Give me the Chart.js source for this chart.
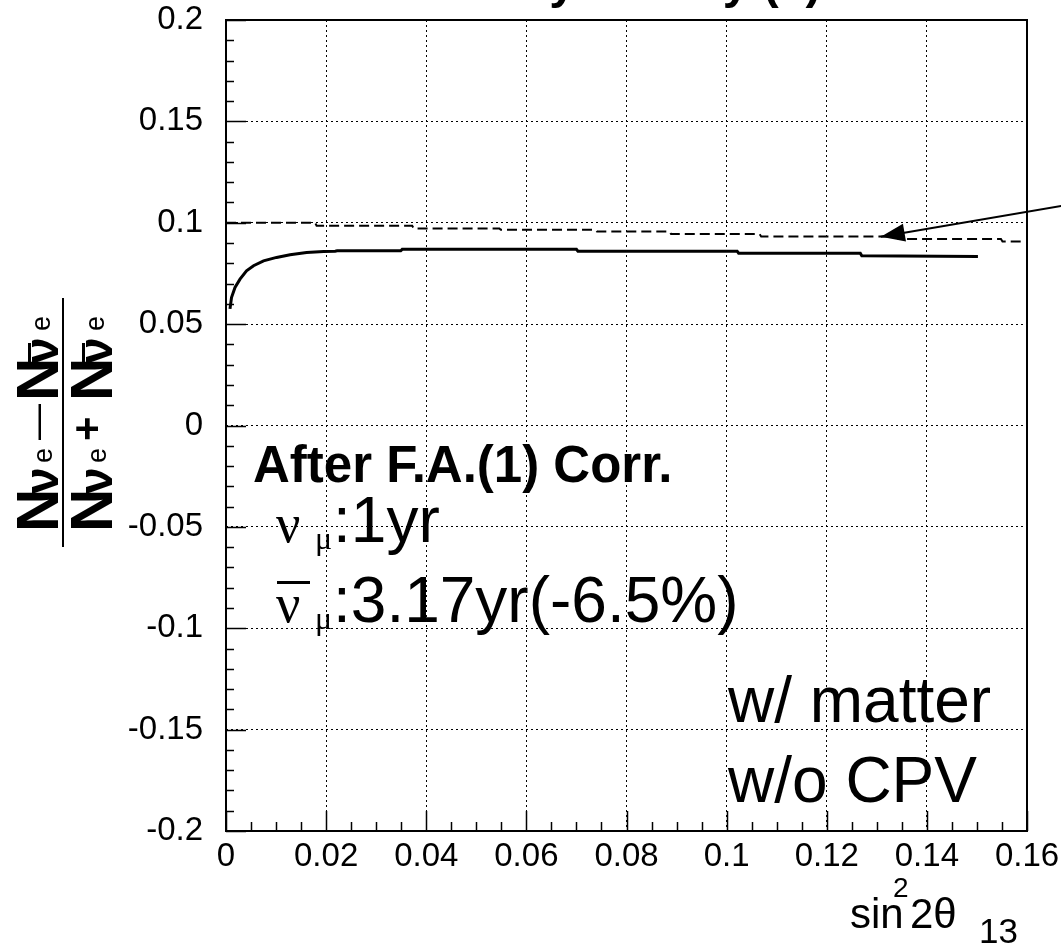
<!DOCTYPE html>
<html><head><meta charset="utf-8">
<script src="https://cdn.jsdelivr.net/npm/chart.js@4/dist/chart.umd.min.js"></script>
<style>html,body{margin:0;padding:0;background:#fff;}#wrap{width:1061px;height:948px;}</style>
</head><body><div id="wrap"><canvas id="c" width="1061" height="948"></canvas></div>
<script>
// ---- data ----
const solidX = [0.0008,0.0011,0.0018,0.0028,0.0041,0.0055,0.0075,0.0101,0.0128,0.0161,0.0195,0.0218,0.0222,0.0349,0.0352,0.0700,0.0703,0.1021,0.1024,0.1267,0.1270,0.1502];
const solidY = [0.0575,0.0631,0.0681,0.0722,0.0763,0.0788,0.0812,0.0829,0.0842,0.0853,0.0858,0.0860,0.0862,0.0862,0.0869,0.0869,0.0860,0.0860,0.0850,0.0850,0.0837,0.0834];
const dashedX = [0,0.0178,0.0181,0.0372,0.0375,0.0546,0.0549,0.0738,0.0741,0.0886,0.0889,0.1066,0.1069,0.1340,0.1343,0.1548,0.1551,0.1588];
const dashedY = [0.1000,0.1000,0.0985,0.0985,0.0972,0.0972,0.0965,0.0965,0.0957,0.0957,0.0944,0.0944,0.0932,0.0932,0.0920,0.0920,0.0908,0.0908];
const arrowX = [0.167,0.1308];
const arrowY = [0.1084,0.0931];
const xTicks = [0,0.02,0.04,0.06,0.08,0.1,0.12,0.14,0.16];
const xTickLabels = ['0','0.02','0.04','0.06','0.08','0.1','0.12','0.14','0.16'];
const yTicks = [-0.2,-0.15,-0.1,-0.05,0,0.05,0.1,0.15,0.2];
const yTickLabels = ['-0.2','-0.15','-0.1','-0.05','0','0.05','0.1','0.15','0.2'];
const topTitle = 'Asymmetry (1)';
const noteBold = 'After F.A.(1) Corr.';
const note1 = ':1yr';
const note2 = ':3.17yr(-6.5%)';
const note3 = 'w/ matter';
const note4 = 'w/o CPV';

const pts = (xs, ys) => xs.map((x, i) => ({x, y: ys[i]}));
const labelFor = (ticks, labels) => v => {
  const i = ticks.findIndex(t => Math.abs(t - v) < 1e-9);
  return i >= 0 ? labels[i] : '';
};
const SANS = '"Liberation Sans", Arial, sans-serif';
const SERIF = '"Liberation Serif", "Times New Roman", serif';

const decor = {
  id: 'decor',
  afterDraw(chart) {
    const ctx = chart.ctx, ca = chart.chartArea, xs = chart.scales.x, ys = chart.scales.y;
    ctx.save();
    ctx.fillStyle = '#000'; ctx.strokeStyle = '#000';
    // frame
    ctx.lineWidth = 2; ctx.setLineDash([]);
    ctx.strokeRect(ca.left, ca.top, ca.right - ca.left, ca.bottom - ca.top);
    // ticks
    ctx.lineWidth = 1.5;
    ctx.beginPath();
    for (let i = 0; i <= 32; i++) {
      const px = Math.round(xs.getPixelForValue(i * 0.005)) + 0.5;
      const len = i % 4 === 0 ? 20 : 9;
      ctx.moveTo(px, ca.bottom); ctx.lineTo(px, ca.bottom - len);
    }
    for (let i = 0; i <= 40; i++) {
      const py = Math.round(ys.getPixelForValue(-0.2 + i * 0.01)) + 0.5;
      const len = i % 5 === 0 ? 20 : 8;
      ctx.moveTo(ca.left, py); ctx.lineTo(ca.left + len, py);
    }
    ctx.stroke();
    // arrow head
    const m = chart.getDatasetMeta(2);
    const p0 = m.data[0], p1 = m.data[1];
    const ang = Math.atan2(p1.y - p0.y, p1.x - p0.x);
    const L = 24, W = 9;
    ctx.beginPath();
    ctx.moveTo(p1.x, p1.y);
    ctx.lineTo(p1.x - L * Math.cos(ang) + W * Math.sin(ang), p1.y - L * Math.sin(ang) - W * Math.cos(ang));
    ctx.lineTo(p1.x - L * Math.cos(ang) - W * Math.sin(ang), p1.y - L * Math.sin(ang) + W * Math.cos(ang));
    ctx.closePath(); ctx.fill();

    // annotations
    ctx.textBaseline = 'alphabetic'; ctx.textAlign = 'left';
    ctx.font = 'bold 51px ' + SANS;
    ctx.fillText(noteBold, 253, 482);
    // line 1: nu_mu:1yr
    ctx.font = '54px ' + SERIF; ctx.fillText('ν', 276, 542);
    ctx.font = '32px ' + SERIF; ctx.fillText('μ', 315, 549);
    ctx.font = '64px ' + SANS; ctx.fillText(note1, 333, 542);
    // line 2: anti-nu_mu
    ctx.font = '54px ' + SERIF; ctx.fillText('ν', 276, 622);
    ctx.fillRect(277, 581, 33, 3);
    ctx.font = '32px ' + SERIF; ctx.fillText('μ', 315, 629);
    ctx.font = '64px ' + SANS; ctx.fillText(note2, 333, 622);
    ctx.fillText(note3, 728, 722);
    ctx.fillText(note4, 728, 802);

    // top (cropped) title, only descenders visible
    ctx.font = 'bold 48px ' + SANS;
    ctx.fillText(topTitle, 488, -2);

    // x axis title sin^2 2theta_13
    ctx.font = '42px ' + SANS; ctx.fillText('sin', 850, 928);
    ctx.font = '28px ' + SANS; ctx.fillText('2', 893, 897);
    ctx.font = '42px ' + SANS; ctx.fillText('2θ', 910, 928);
    ctx.font = '35px ' + SANS; ctx.fillText('13', 979, 943);

    // y axis title (rotated fraction)
    ctx.save();
    ctx.rotate(-Math.PI / 2);
    const put = (t, font, y, x) => { ctx.font = font; ctx.fillText(t, -y, x); };
    const row = (base, op, opFont, opBase, opY) => {
      put('N', 'bold 60px ' + SANS, 532, base);
      put('ν', 'bold 48px ' + SANS, 494, base);
      put('e', '27px ' + SANS, 463, base - 6);
      put(op, opFont, opY, opBase);
      put('N', 'bold 60px ' + SANS, 401, base);
      put('ν', 'bold 48px ' + SANS, 364, base);
      put('e', '27px ' + SANS, 331, base - 8);
    };
    row(58, '—', '36px ' + SANS, 49, 440);
    row(112, '+', 'bold 42px ' + SANS, 101, 441);
    ctx.restore();
    // overbars on anti-nu
    ctx.fillRect(28, 343, 3, 19);
    ctx.fillRect(82, 343, 3, 19);
    // fraction bar
    ctx.fillRect(62, 298, 2, 249);
    ctx.restore();
  }
};

new Chart(document.getElementById('c'), {
  type: 'scatter',
  data: {
    datasets: [
      {data: pts(solidX, solidY), showLine: true, borderColor: '#000', borderWidth: 3, pointRadius: 0, tension: 0},
      {data: pts(dashedX, dashedY), showLine: true, borderColor: '#000', borderWidth: 2, borderDash: [10, 5], pointRadius: 0, tension: 0},
      {data: pts(arrowX, arrowY), showLine: true, borderColor: '#000', borderWidth: 2, pointRadius: 0, clip: false}
    ]
  },
  options: {
    responsive: false, animation: false, devicePixelRatio: 1,
    layout: {padding: {top: 20, right: 34, left: 0, bottom: 0}},
    plugins: {legend: {display: false}, tooltip: {enabled: false}},
    scales: {
      x: {
        type: 'linear', min: 0, max: 0.16,
        afterBuildTicks: s => { s.ticks = xTicks.map(v => ({value: v})); },
        afterFit: s => { s.height = 117; s.paddingLeft = 0; s.paddingRight = 0; },
        ticks: {callback: labelFor(xTicks, xTickLabels), color: '#000', font: {family: SANS, size: 33}, padding: 6, maxRotation: 0, autoSkip: false},
        grid: {color: '#000', lineWidth: 1, drawTicks: false},
        border: {display: false, dash: [2, 3]}
      },
      y: {
        type: 'linear', min: -0.2, max: 0.2,
        afterBuildTicks: s => { s.ticks = yTicks.map(v => ({value: v})); },
        afterFit: s => { s.width = 226; s.paddingTop = 0; s.paddingBottom = 0; },
        ticks: {callback: labelFor(yTicks, yTickLabels), color: '#000', font: {family: SANS, size: 33}, padding: 23, autoSkip: false},
        grid: {color: '#000', lineWidth: 1, drawTicks: false},
        border: {display: false, dash: [2, 3]}
      }
    }
  },
  plugins: [decor]
});
</script></body></html>
